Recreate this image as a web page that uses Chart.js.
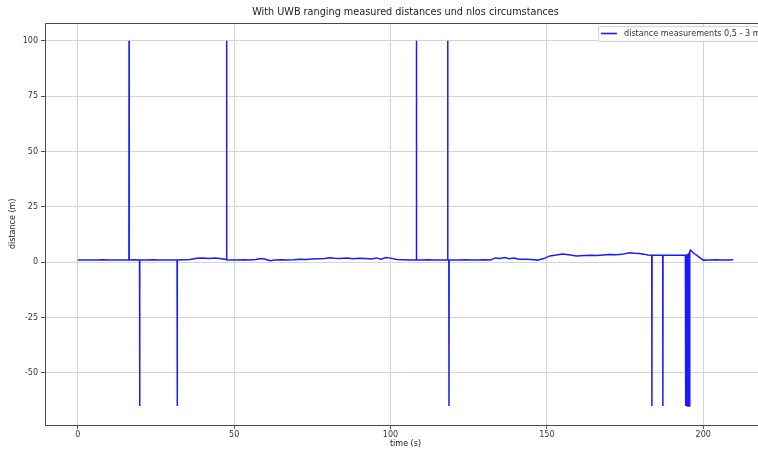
<!DOCTYPE html>
<html>
<head>
<meta charset="utf-8">
<script src="https://cdn.jsdelivr.net/npm/chart.js@4/dist/chart.umd.min.js"></script>
<style>
  html, body { margin: 0; padding: 0; background: #fff; overflow: hidden; }
  #wrap { width: 758px; height: 450px; overflow: hidden; }
</style>
</head>
<body>
<div id="wrap"><canvas id="uwbChart" width="776" height="450"></canvas></div>
<script>
var timeS = [
  0, 2, 4, 6, 8, 10, 12, 14, 16.35, 16.4, 16.45, 18, 19.75, 19.8, 19.85,
  22, 24, 26, 28, 30, 31.75, 31.8, 31.85, 34, 36, 38, 40, 42, 44, 46,
  47.55, 47.6, 47.65, 49, 51, 53, 55, 57, 58.5, 60, 61.5, 63, 65, 67, 69,
  71, 73, 75, 77, 79, 80.5, 82, 84, 86, 88, 90, 92, 94, 95.5, 97, 98.5,
  100, 102, 104, 106, 108.25, 108.3, 108.35, 110, 112, 114, 116, 118.25,
  118.3, 118.35, 118.65, 118.7, 118.75, 120, 122, 124, 126, 128, 130, 132, 133.5,
  135, 136.5, 138, 139.5, 141, 143, 145, 147, 149, 151, 153, 155, 157,
  159.5, 162, 164, 166, 168, 170, 172, 174, 176.5, 178, 179.5, 181,
  182.3, 183.55, 183.6, 183.65, 185, 187.05, 187.1, 187.15, 189, 191, 193,
  194.3, 194.4, 194.5, 194.7, 194.8, 195.0, 195.1, 195.3, 195.4, 195.6,
  195.7, 195.9, 197, 198.5, 200, 202, 204, 206, 208, 209.6
];
var distanceM = [
  1.0, 1.0, 0.9, 1.0, 1.1, 1.0, 0.9, 1.0, 1.0, 100, 1.0, 1.1, 1.0, -65, 1.0,
  1.0, 1.1, 1.0, 0.9, 1.0, 1.0, -65, 1.0, 1.1, 1.2, 1.7, 1.8, 1.6, 1.9, 1.5,
  1.2, 100, 1.1, 1.0, 1.0, 1.1, 1.0, 1.2, 1.6, 1.3, 0.6, 1.0, 1.1, 1.0, 1.1,
  1.3, 1.2, 1.4, 1.5, 1.6, 2.0, 1.7, 1.6, 1.8, 1.5, 1.7, 1.6, 1.4, 1.9, 1.3, 2.1,
  1.8, 1.2, 1.1, 1.0, 1.0, 100, 1.0, 1.0, 1.1, 1.0, 1.0, 1.0,
  100, 1.0, 1.0, -65, 1.0, 1.0, 1.0, 1.1, 1.0, 1.0, 1.1, 1.0, 1.9,
  1.6, 2.1, 1.5, 1.8, 1.3, 1.3, 1.2, 0.9, 1.6, 2.8, 3.2, 3.7, 3.3,
  2.8, 3.0, 3.1, 3.0, 3.2, 3.4, 3.3, 3.5, 4.2, 4.0, 3.9, 3.6,
  3.2, 3.1, -65, 3.1, 3.1, 3.1, -65, 3.1, 3.1, 3.1, 3.1,
  3.1, -65, 3.3, -65, 3.5, -65, 3.8, -65, 4.2, -65,
  4.6, 5.4, 4.0, 2.5, 0.9, 1.0, 1.1, 1.0, 1.0, 1.1
];
var xTicks = [0, 50, 100, 150, 200];
var yTicks = [-50, -25, 0, 25, 50, 75, 100];

var FONT = "'DejaVu Sans', sans-serif";

// matplotlib-like frame round the plot area (right side runs off the page)
var framePlugin = {
  id: "frame",
  afterDatasetsDraw: function (chart) {
    var a = chart.chartArea, c = chart.ctx;
    var l = Math.round(a.left) + 0.5, t = Math.round(a.top) + 0.5;
    var b = Math.round(a.bottom) + 0.5, r = Math.round(a.right) + 0.5;
    c.save();
    c.strokeStyle = "#4a4a4a";
    c.lineWidth = 1;
    c.beginPath();
    c.moveTo(r, t); c.lineTo(l, t); c.lineTo(l, b); c.lineTo(r, b);
    c.stroke();
    c.restore();
  }
};

// legend box in the upper right corner, inside the axes
var legendPlugin = {
  id: "boxLegend",
  afterDraw: function (chart) {
    var c = chart.ctx;
    var ds = chart.data.datasets[0];
    var x = 598, y = 26;
    c.save();
    c.font = "8.1px " + FONT;
    var w = 26 + c.measureText(ds.label).width + 8;
    c.fillStyle = "rgba(255,255,255,0.85)";
    c.strokeStyle = "#d6d6d6";
    c.lineWidth = 1;
    c.beginPath();
    c.rect(x + 0.5, y + 0.5, w, 15);
    c.fill();
    c.stroke();
    c.strokeStyle = ds.borderColor;
    c.lineWidth = 1.6;
    c.beginPath();
    c.moveTo(x + 3, y + 7.5);
    c.lineTo(x + 19, y + 7.5);
    c.stroke();
    c.fillStyle = "#333";
    c.textBaseline = "middle";
    c.fillText(ds.label, x + 26, y + 8);
    c.restore();
  }
};

var points = timeS.map(function (t, i) { return { x: t, y: distanceM[i] }; });

new Chart(document.getElementById("uwbChart"), {
  type: "line",
  data: {
    datasets: [{
      label: "distance measurements 0,5 - 3 m",
      data: points,
      borderColor: "#1a1aff",
      borderWidth: 1.5,
      pointRadius: 0,
      tension: 0,
      fill: false
    }]
  },
  options: {
    responsive: false,
    animation: false,
    layout: { padding: { left: 0, right: 10, top: 0, bottom: 0 } },
    plugins: {
      legend: { display: false },
      tooltip: { enabled: false },
      title: {
        display: true,
        fullSize: false,
        text: "With UWB ranging measured distances und nlos circumstances",
        color: "#222",
        font: { family: FONT, size: 9.7, weight: "normal" },
        padding: { top: 7, bottom: 4 }
      }
    },
    scales: {
      x: {
        type: "linear",
        min: -10.48,
        max: 220.08,
        afterBuildTicks: function (s) { s.ticks = xTicks.map(function (v) { return { value: v }; }); },
        afterFit: function (s) { s.height = 25; },
        grid: { color: "#d4d4d4", lineWidth: 1, tickLength: 4, tickColor: "#555" },
        border: { display: false },
        ticks: { color: "#333", font: { family: FONT, size: 8 }, padding: 1, maxRotation: 0 },
        title: {
          display: true, text: "time (s)", color: "#222",
          font: { family: FONT, size: 8 }, padding: { top: 0, bottom: 1 }
        }
      },
      y: {
        type: "linear",
        min: -73.6,
        max: 108.2,
        afterBuildTicks: function (s) { s.ticks = yTicks.map(function (v) { return { value: v }; }); },
        afterFit: function (s) { s.width = 45; },
        grid: { color: "#d4d4d4", lineWidth: 1, tickLength: 4, tickColor: "#555" },
        border: { display: false },
        ticks: { color: "#333", font: { family: FONT, size: 8 }, padding: 3 },
        title: {
          display: true, text: "distance (m)", color: "#222",
          font: { family: FONT, size: 8 }, padding: { top: 8, bottom: 0 }
        }
      }
    }
  },
  plugins: [framePlugin, legendPlugin]
});
</script>
</body>
</html>
